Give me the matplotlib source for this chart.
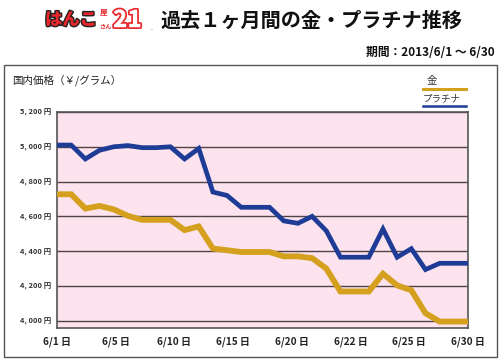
import matplotlib
matplotlib.use("Agg")
import matplotlib.pyplot as plt
import matplotlib.patheffects as pe
from matplotlib.patches import Rectangle
from matplotlib.lines import Line2D

plt.rcParams['font.family'] = ['Noto Sans CJK JP', 'DejaVu Sans']

# ---- data ----
days = list(range(30))
platinum = [5010, 5010, 4930, 4980, 5000, 5007, 4995, 4995, 5000, 4930,
            4990, 4740, 4720, 4652, 4652, 4652, 4574, 4560, 4600, 4517,
            4365, 4365, 4365, 4527, 4365, 4414, 4294, 4330, 4330, 4330]
gold = [4727, 4727, 4645, 4660, 4640, 4603, 4580, 4580, 4580, 4521,
        4542, 4415, 4405, 4395, 4395, 4395, 4370, 4370, 4360, 4300,
        4168, 4168, 4168, 4270, 4203, 4175, 4043, 3995, 3995, 3995]
x_labels = ['6/1 日', '6/5 日', '6/10 日', '6/15 日', '6/20 日', '6/22 日', '6/25 日', '6/30 日']
y_ticks = [4000, 4200, 4400, 4600, 4800, 5000, 5200]
y_labels = ['4, 000 円', '4, 200 円', '4, 400 円', '4, 600 円', '4, 800 円', '5, 000 円', '5, 200 円']

GOLD = '#D4A01E'
BLUE = '#1E3C96'
PINK = '#FCE3EE'
GRID = '#4F4346'

W, H = 500, 361
fig = plt.figure(figsize=(W / 100, H / 100), dpi=100)
fig.patch.set_facecolor('white')

def fx(px):
    return px / W

def fy(py):
    return 1 - py / H

# outer frame
fig.patches.append(Rectangle((fx(4), fy(357)), fx(493), (357 - 65) / H,
                             transform=fig.transFigure, fill=False,
                             edgecolor='#555555', linewidth=1.0))

# plot area
left, right, top, bottom = 57, 468, 112, 328
ax = fig.add_axes([fx(left), fy(bottom), (right - left) / W, (bottom - top) / H])
ax.set_facecolor(PINK)
ax.set_xlim(0, 29)
ax.set_ylim(3958, 5200)
for v in y_ticks:
    ax.axhline(v, color=GRID, linewidth=1.0, zorder=1)
ax.plot(days, gold, color=GOLD, linewidth=4.2, solid_joinstyle='miter', zorder=3)
ax.plot(days, platinum, color=BLUE, linewidth=3.4, solid_joinstyle='miter', zorder=4)

ax.set_yticks(y_ticks)
ax.set_yticklabels(y_labels, fontsize=5.4, fontweight='bold', color='#333333')
xt = [29 * i / (len(x_labels) - 1) for i in range(len(x_labels))]
ax.set_xticks(xt)
ax.set_xticklabels(x_labels, fontsize=7.2, fontweight='bold', color='#222222')
ax.tick_params(axis='both', length=0, pad=4)
ax.tick_params(axis='x', pad=6)
for s in ax.spines.values():
    s.set_color('#555555')
    s.set_linewidth(1.2)

# title
fig.text(fx(160), fy(20), '過去１ヶ月間の金・プラチナ推移', fontsize=14.5,
         fontweight='bold', color='#111111', ha='left', va='center')
fig.text(fx(495), fy(53), '期間：2013/6/1 〜 6/30', fontsize=8.5,
         fontweight='bold', color='#111111', ha='right', va='center')

# logo
stroke = [pe.withStroke(linewidth=2.0, foreground='#222222')]
fig.text(fx(45), fy(20), 'はんこ', fontsize=12.5, fontweight='heavy', color='#E8262B',
         ha='left', va='center', path_effects=stroke)
fig.text(fx(100), fy(12), '屋', fontsize=5.5, fontweight='bold', color='#E8262B',
         ha='left', va='center')
fig.text(fx(99), fy(26), 'さん', fontsize=4.5, fontweight='bold', color='#E8262B',
         ha='left', va='center')
fig.text(fx(113), fy(20), '21', fontsize=17, fontweight='heavy', color='white',
         ha='left', va='center', fontstyle='italic',
         path_effects=[pe.withStroke(linewidth=2.5, foreground='#E8262B')])
fig.text(fx(150), fy(28), '.', fontsize=5, color='#E8262B', ha='left', va='center')

# axis caption
fig.text(fx(12), fy(80), '国内価格（￥/グラム）', fontsize=7.6, color='#222222',
         ha='left', va='center')

# legend
fig.text(fx(427), fy(81), '金', fontsize=7.5, color='#333333', ha='left', va='center')
fig.lines.append(Line2D([fx(423), fx(466)], [fy(89), fy(89)], transform=fig.transFigure,
                        color=GOLD, linewidth=2.2))
fig.text(fx(423), fy(99), 'プラチナ', fontsize=6.8, color='#333333', ha='left', va='center')
fig.lines.append(Line2D([fx(423), fx(466)], [fy(106), fy(106)], transform=fig.transFigure,
                        color=BLUE, linewidth=1.8))

fig.savefig('out.png', dpi=100)
